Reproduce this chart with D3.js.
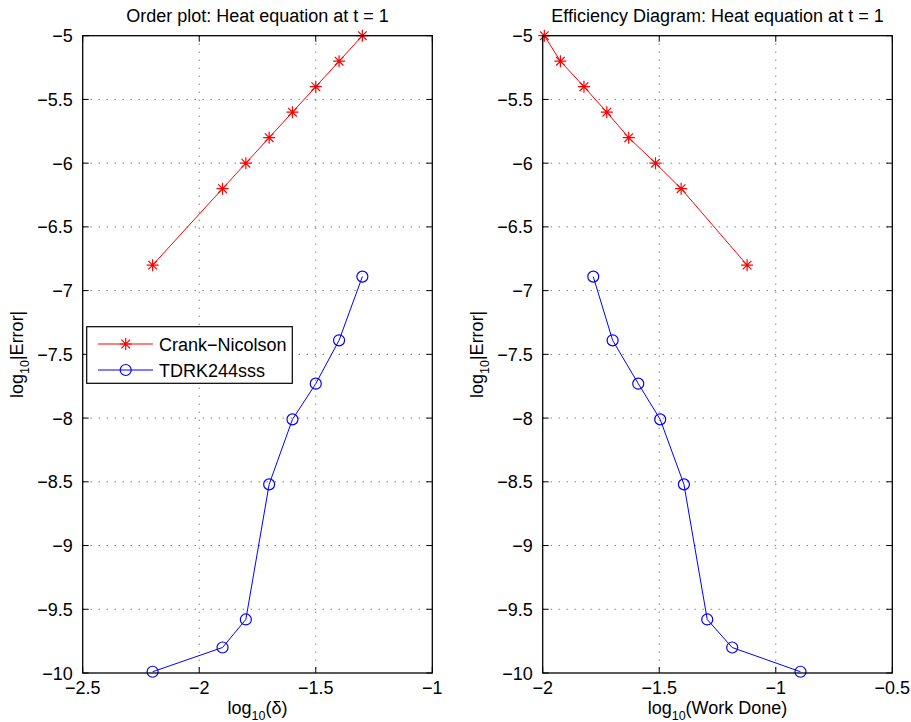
<!DOCTYPE html>
<meta charset="UTF-8">
<style>
    body { margin: 0; background: #fff; }
    text { font-family: "Liberation Sans", Arial, sans-serif; fill: #000; }
    .grid line { stroke: #444; stroke-width: 1; stroke-dasharray: 1,7; }
    .frame { fill: none; stroke: #000; stroke-width: 1.3; }
    .tick-mark { stroke: #000; stroke-width: 1; }
</style>
<body>
<script src="https://d3js.org/d3.v7.min.js"></script>
<script>

// log10 of step size delta (left panel x)
var logDelta = [-2.2, -1.9, -1.8, -1.7, -1.6, -1.5, -1.4, -1.3];
// log10 |Error| for each method
var cnError   = [-6.8, -6.2, -6.0, -5.8, -5.6, -5.4, -5.2, -5.0];
var tdrkError = [-9.99, -9.80, -9.58, -8.52, -8.01, -7.73, -7.39, -6.89];
// log10 work done (right panel x)
var cnWork   = [-1.123, -1.406, -1.516, -1.631, -1.725, -1.823, -1.924, -1.993];
var tdrkWork = [-0.894, -1.187, -1.294, -1.394, -1.496, -1.590, -1.700, -1.783];

var yTicks = [-10, -9.5, -9, -8.5, -8, -7.5, -7, -6.5, -6, -5.5, -5];
var xTicksLeft  = [-2.5, -2, -1.5, -1];
var xTicksRight = [-2, -1.5, -1, -0.5];

var seriesNames = ["Crank\u2212Nicolson", "TDRK244sss"];

var width = 911, height = 722;
var plotTop = 35.7, plotBottom = 673;

var svg = d3.select("body").append("svg")
    .attr("width", width)
    .attr("height", height);

function fmt(v) {
  return String(v).replace("-", "\u2212");
}

// asterisk marker: plus + cross
function asterisk(g, x, y, r) {
  var d = r * 0.72;
  var p = "M" + (x - r) + "," + y + "H" + (x + r) +
          "M" + x + "," + (y - r) + "V" + (y + r) +
          "M" + (x - d) + "," + (y - d) + "L" + (x + d) + "," + (y + d) +
          "M" + (x - d) + "," + (y + d) + "L" + (x + d) + "," + (y - d);
  g.append("path").attr("d", p).attr("stroke", "#f00").attr("stroke-width", 1.2).attr("fill", "none");
}

function panel(left, right, xDomain, xTicks, cnX, tdrkX, title, xlabelMain, xlabelRest, withLegend) {
  var x = d3.scaleLinear().domain(xDomain).range([left, right]);
  var y = d3.scaleLinear().domain([-10, -5]).range([plotBottom, plotTop]);

  var g = svg.append("g");

  // grid
  var grid = g.append("g").attr("class", "grid");
  grid.selectAll("line.gx").data(xTicks.slice(1, -1)).enter().append("line")
      .attr("class", "gx")
      .attr("x1", function(d) { return x(d); }).attr("x2", function(d) { return x(d); })
      .attr("y1", plotTop).attr("y2", plotBottom);
  grid.selectAll("line.gy").data(yTicks.slice(1, -1)).enter().append("line")
      .attr("class", "gy")
      .attr("y1", function(d) { return y(d); }).attr("y2", function(d) { return y(d); })
      .attr("x1", left).attr("x2", right);

  // inward ticks on all sides
  var tl = 6;
  xTicks.forEach(function(t) {
    g.append("line").attr("class", "tick-mark").attr("x1", x(t)).attr("x2", x(t)).attr("y1", plotBottom).attr("y2", plotBottom - tl);
    g.append("line").attr("class", "tick-mark").attr("x1", x(t)).attr("x2", x(t)).attr("y1", plotTop).attr("y2", plotTop + tl);
  });
  yTicks.forEach(function(t) {
    g.append("line").attr("class", "tick-mark").attr("y1", y(t)).attr("y2", y(t)).attr("x1", left).attr("x2", left + tl);
    g.append("line").attr("class", "tick-mark").attr("y1", y(t)).attr("y2", y(t)).attr("x1", right).attr("x2", right - tl);
  });

  // tick labels
  g.selectAll("text.xt").data(xTicks).enter().append("text")
      .attr("class", "xt")
      .attr("x", function(d) { return x(d); })
      .attr("y", plotBottom + 20.5)
      .attr("text-anchor", "middle")
      .style("font-size", "18px")
      .text(fmt);
  g.selectAll("text.yt").data(yTicks).enter().append("text")
      .attr("class", "yt")
      .attr("x", left - 10)
      .attr("y", function(d) { return y(d) + 6.5; })
      .attr("text-anchor", "end")
      .style("font-size", "18px")
      .text(fmt);

  // lines + markers
  var line = d3.line().x(function(d) { return x(d[0]); }).y(function(d) { return y(d[1]); });
  var cnPts = d3.zip(cnX, cnError);
  var tdPts = d3.zip(tdrkX, tdrkError);

  g.append("path").datum(cnPts).attr("d", line).attr("fill", "none").attr("stroke", "#f00").attr("stroke-width", 1);
  g.append("path").datum(tdPts).attr("d", line).attr("fill", "none").attr("stroke", "#00f").attr("stroke-width", 1);

  cnPts.forEach(function(p) { asterisk(g, x(p[0]), y(p[1]), 6); });
  g.selectAll("circle.m").data(tdPts).enter().append("circle")
      .attr("class", "m")
      .attr("cx", function(d) { return x(d[0]); })
      .attr("cy", function(d) { return y(d[1]); })
      .attr("r", 5.5)
      .attr("fill", "none").attr("stroke", "#00f").attr("stroke-width", 1.2);

  // frame
  g.append("rect").attr("class", "frame")
      .attr("x", left).attr("y", plotTop).attr("width", right - left).attr("height", plotBottom - plotTop);

  // title
  g.append("text").attr("x", (left + right) / 2).attr("y", 22)
      .attr("text-anchor", "middle").style("font-size", "18px").text(title);

  // x label with subscript
  var xl = g.append("text").attr("x", (left + right) / 2).attr("y", 714)
      .attr("text-anchor", "middle").style("font-size", "18px");
  xl.append("tspan").text(xlabelMain);
  xl.append("tspan").attr("dy", 5.5).style("font-size", "12.5px").text("10");
  xl.append("tspan").attr("dy", -5.5).text(xlabelRest);

  // y label
  var yl = g.append("text")
      .attr("transform", "translate(" + (left - 60) + "," + ((plotTop + plotBottom) / 2) + ") rotate(-90)")
      .attr("text-anchor", "middle").style("font-size", "18px");
  yl.append("tspan").text("log");
  yl.append("tspan").attr("dy", 6).style("font-size", "12.5px").text("10");
  yl.append("tspan").attr("dy", -6).text("|Error|");

  if (withLegend) {
    var lg = g.append("g");
    lg.append("rect").attr("x", 86.7).attr("y", 326.7).attr("width", 205.6).attr("height", 56.6)
        .attr("fill", "#fff").attr("stroke", "#000").attr("stroke-width", 1.2);
    var rows = [344, 370];
    lg.append("line").attr("x1", 98).attr("x2", 153).attr("y1", rows[0]).attr("y2", rows[0]).attr("stroke", "#f00");
    asterisk(lg, 125.7, rows[0], 6);
    lg.append("line").attr("x1", 98).attr("x2", 153).attr("y1", rows[1]).attr("y2", rows[1]).attr("stroke", "#00f");
    lg.append("circle").attr("cx", 125.7).attr("cy", rows[1]).attr("r", 5.5)
        .attr("fill", "none").attr("stroke", "#00f").attr("stroke-width", 1.2);
    lg.selectAll("text.lt").data(seriesNames).enter().append("text")
        .attr("class", "lt")
        .attr("x", 159)
        .attr("y", function(d, i) { return rows[i] + 6.5; })
        .style("font-size", "18px")
        .text(function(d) { return d; });
  }
}

panel(82.7, 432.3, [-2.5, -1], xTicksLeft, logDelta, logDelta,
      "Order plot: Heat equation at t = 1", "log", "(\u03b4)", true);
panel(542.7, 892.3, [-2, -0.5], xTicksRight, cnWork, tdrkWork,
      "Efficiency Diagram: Heat equation at t = 1", "log", "(Work Done)", false);

</script>
</body>
